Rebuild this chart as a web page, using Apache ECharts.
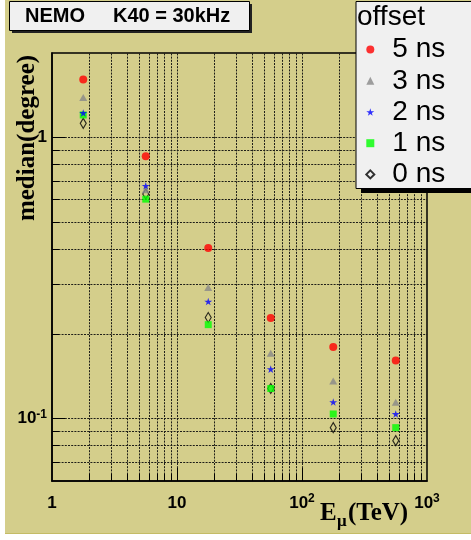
<!DOCTYPE html>
<html>
<head>
<meta charset="utf-8">
<script src="https://cdn.jsdelivr.net/npm/echarts@6/dist/echarts.min.js"></script>
<style>html,body{margin:0;padding:0;background:#fff;}#c{width:471px;height:540px;}</style>
</head>
<body>
<div id="c"></div>
<script>
// ---- data ----
const energy = [1.778, 5.623, 17.78, 56.23, 177.8, 562.3];
const off5 = [1.61, 0.858, 0.405, 0.228, 0.180, 0.161];
const off3 = [1.39, 0.652, 0.293, 0.171, 0.136, 0.1143];
const off2 = [1.224, 0.674, 0.261, 0.150, 0.1146, 0.1039];
const off1 = [1.204, 0.604, 0.216, 0.128, 0.1039, 0.0929];
const off0 = [1.124, 0.63, 0.229, 0.128, 0.0929, 0.0835];
const seriesNames = ['5 ns', '3 ns', '2 ns', '1 ns', '0 ns'];
const xRange = [1, 1000];
const yRange = [0.06, 2];
const xTicks = [1, 10, 100, 1000];
const xTickLabels = ['1', '10', '10^2', '10^3'];
const yTicks = [0.1, 1];
const yTickLabels = ['10^-1', '1'];
const gridX = [2,3,4,5,6,7,8,9,10,20,30,40,50,60,70,80,90,100,200,300,400,500,600,700,800,900];
const gridY = [0.07,0.08,0.09,0.1,0.2,0.3,0.4,0.5,0.6,0.7,0.8,0.9,1];

const KHAKI = '#d4ce8b';
const STAR = 'path://M50,0 L61,35 L98,35 L68,57 L79,91 L50,70 L21,91 L32,57 L2,35 L39,35 Z';

function isPow10(v) { const l = Math.log10(v); return Math.abs(l - Math.round(l)) < 1e-6; }
function snap(v) { return Math.round(v - 0.5) + 0.5; }
function fmtTick(ticks, labels) {
  return function (v) {
    for (let i = 0; i < ticks.length; i++) {
      if (Math.abs(Math.log10(v) - Math.log10(ticks[i])) < 1e-6) {
        const parts = labels[i].split('^');
        return parts.length > 1 ? '{b|' + parts[0] + '}{s|' + parts[1] + '}' : '{b|' + parts[0] + '}';
      }
    }
    return '';
  };
}
const richLab = {
  b: { fontSize: 17, fontWeight: 'bold', fontFamily: 'Liberation Sans, Arial', color: '#000', lineHeight: 20 },
  s: { fontSize: 12, fontWeight: 'bold', fontFamily: 'Liberation Sans, Arial', color: '#000', lineHeight: 12, verticalAlign: 'top' }
};

const gridStyle = { stroke: '#1e1e18', lineDash: [2, 1.2], lineWidth: 1 };

const chart = echarts.init(document.getElementById('c'), null, { renderer: 'canvas' });

function pair(ys) { return energy.map((x, i) => [x, ys[i]]); }

chart.setOption({
  backgroundColor: '#ffffff',
  animation: false,
  grid: { left: 52, right: 44, top: 53, bottom: 59, show: true, backgroundColor: 'transparent', borderColor: '#000', borderWidth: 1.5, containLabel: false },
  xAxis: {
    type: 'log', logBase: 10, min: xRange[0], max: xRange[1],
    axisLine: { show: true, lineStyle: { color: '#000', width: 1.5 } },
    axisTick: { show: false }, splitLine: { show: false }, minorTick: { show: false },
    axisLabel: { show: true, margin: 12, showMinLabel: true, showMaxLabel: true, formatter: fmtTick(xTicks, xTickLabels), rich: richLab }
  },
  yAxis: {
    type: 'log', logBase: 10, min: yRange[0], max: yRange[1],
    axisLine: { show: true, lineStyle: { color: '#000', width: 1.5 } },
    axisTick: { show: false }, splitLine: { show: false }, minorTick: { show: false },
    axisLabel: { show: true, margin: 5, showMinLabel: false, showMaxLabel: false, formatter: fmtTick(yTicks, yTickLabels), rich: richLab }
  },
  legend: {
    orient: 'vertical', left: 365.3, top: 34, padding: 0, itemGap: 0,
    itemWidth: 8, itemHeight: 8, z: 10, symbolKeepAspect: true,
    data: seriesNames,
    textStyle: { fontSize: 28, fontFamily: 'Liberation Sans, Arial', color: '#000', lineHeight: 31.2, padding: [0, 0, 0, 13] }
  },
  graphic: [
    { type: 'rect', z: -10, shape: { x: 5, y: 0, width: 466, height: 533 }, style: { fill: KHAKI } },
    { type: 'rect', z: -9, shape: { x: 5, y: 533, width: 466, height: 1 }, style: { fill: '#c4bc66' } },
    // title box
    { type: 'rect', z: 8, shape: { x: 12, y: 4, width: 240, height: 29 }, style: { fill: '#222' } },
    { type: 'rect', z: 9, shape: { x: 9.5, y: 1.5, width: 240, height: 29 }, style: { fill: '#f0f0f0', stroke: '#000', lineWidth: 1 } },
    { type: 'text', z: 10, style: { x: 25, y: 16.5, text: 'NEMO', font: 'bold 20px "Liberation Sans", Arial', fill: '#000', verticalAlign: 'middle', align: 'left' } },
    { type: 'text', z: 10, style: { x: 113, y: 16.5, text: 'K40 = 30kHz', font: 'bold 20px "Liberation Sans", Arial', fill: '#000', verticalAlign: 'middle', align: 'left' } },
    // legend box
    { type: 'rect', z: 8, shape: { x: 361, y: 6, width: 115, height: 187 }, style: { fill: '#000' } },
    { type: 'rect', z: 9, shape: { x: 356, y: 1.5, width: 118, height: 187 }, style: { fill: '#f0f0f0', stroke: '#000', lineWidth: 1 } },
    { type: 'text', z: 10, style: { x: 357, y: 17.5, text: 'offset', font: '28px "Liberation Sans", Arial', fill: '#000', verticalAlign: 'middle', align: 'left' } },
    // axis titles
    { type: 'text', z: 10, x: 27.5, y: 138, rotation: Math.PI / 2, style: { x: 0, y: 0, text: 'median(degree)', font: 'bold 25px "Liberation Serif", "Times New Roman", serif', fill: '#000', align: 'center', verticalAlign: 'middle' } },
    { type: 'text', z: 10, style: { x: 320, y: 513.5, text: 'E', font: 'bold 25px "Liberation Serif", "Times New Roman", serif', fill: '#000', align: 'left', verticalAlign: 'middle' } },
    { type: 'text', z: 10, style: { x: 337, y: 521.5, text: 'μ', font: 'bold 17px "Liberation Serif", "Times New Roman", serif', fill: '#000', align: 'left', verticalAlign: 'middle' } },
    { type: 'text', z: 10, style: { x: 348, y: 513.5, text: '(TeV)', font: 'bold 25px "Liberation Serif", "Times New Roman", serif', fill: '#000', align: 'left', verticalAlign: 'middle' } }
  ],
  series: [
    {
      type: 'custom', name: 'gridX', silent: true, z: 1, clip: false,
      data: gridX.map(v => [v, yRange[0]]),
      renderItem: function (params, api) {
        const x = api.value(0);
        const p0 = api.coord([x, yRange[0]]);
        const p1 = api.coord([x, yRange[1]]);
        const len = isPow10(x) ? 13 : 7;
        const sx = snap(p0[0]);
        return { type: 'group', children: [
          { type: 'line', shape: { x1: sx, y1: p0[1], x2: sx, y2: p1[1] }, style: gridStyle },
          { type: 'line', shape: { x1: sx, y1: p0[1], x2: sx, y2: p0[1] - len }, style: { stroke: '#000', lineWidth: 1 } }
        ] };
      }
    },
    {
      type: 'custom', name: 'gridY', silent: true, z: 1, clip: false,
      data: gridY.map(v => [xRange[0], v]),
      renderItem: function (params, api) {
        const y = api.value(1);
        const p0 = api.coord([xRange[0], y]);
        const p1 = api.coord([xRange[1], y]);
        const len = isPow10(y) ? 13 : 7;
        const sy = snap(p0[1]);
        return { type: 'group', children: [
          { type: 'line', shape: { x1: p0[0], y1: sy, x2: p1[0], y2: sy }, style: gridStyle },
          { type: 'line', shape: { x1: p0[0], y1: sy, x2: p0[0] + len, y2: sy }, style: { stroke: '#000', lineWidth: 1 } }
        ] };
      }
    },
    { type: 'scatter', name: '0 ns', z: 3, data: pair(off0), symbol: 'diamond', symbolSize: [6, 10], symbolKeepAspect: true, itemStyle: { color: 'rgba(0,0,0,0)', borderColor: '#000', borderWidth: 1.2 } },
    { type: 'scatter', name: '1 ns', z: 3, data: pair(off1), symbol: 'rect', symbolSize: 7, symbolKeepAspect: true, itemStyle: { color: '#00ff00' } },
    { type: 'scatter', name: '3 ns', z: 3, data: pair(off3), symbol: 'triangle', symbolSize: [8, 7], symbolKeepAspect: true, itemStyle: { color: '#888888' } },
    { type: 'scatter', name: '2 ns', z: 3, data: pair(off2), symbol: STAR, symbolSize: 8, symbolKeepAspect: true, itemStyle: { color: '#0000ff' } },
    { type: 'scatter', name: '5 ns', z: 3, data: pair(off5), symbol: 'circle', symbolSize: 8, symbolKeepAspect: true, itemStyle: { color: '#ff0000' } }
  ]
});
</script>
</body>
</html>
